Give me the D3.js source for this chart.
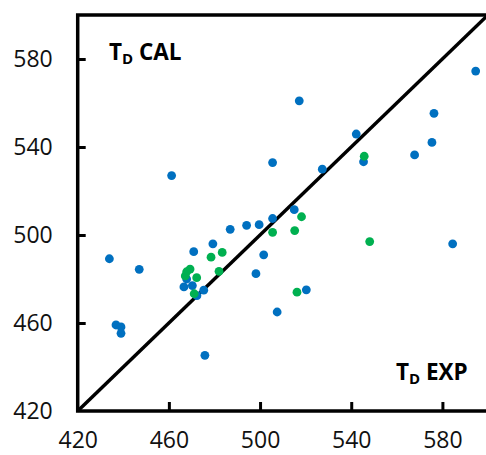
<!DOCTYPE html>
<html><head><meta charset="utf-8">
<script src="https://cdn.jsdelivr.net/npm/d3@7"></script>
<style>html,body{margin:0;padding:0;background:#fff;overflow:hidden}</style>
</head><body>
<script>
const xTicks = [420, 460, 500, 540, 580];
const yTicks = [420, 460, 500, 540, 580];
const blueX = [461.2,505.5,505.5,517.2,594.6,576.3,542.2,575.4,567.8,545.4,527.3,515,433.9,447,436.8,439,439,475.8,470.9,479.3,486.9,494.1,499.6,501.6,498.2,507.5,467.8,466.6,470.3,475.3,472.3,584.5,520.3];
const blueY = [527,532.9,507.5,561,574.5,555.3,545.9,542.1,536.4,533.3,529.9,511.5,489.2,484.4,459.1,458.2,455.3,445.3,492.4,496,502.6,504.4,504.7,491,482.4,465,480,476.4,477,474.9,472.4,496,475.1];
const greenX = [545.7,518.2,505.5,483.4,478.5,482,469.3,467.8,467.2,472.2,471.1,515.2,548.1,516.2];
const greenY = [535.8,508.3,501.2,492.1,489.9,483.5,484.5,483.3,481.4,480.6,473.3,502,497,474];

const W = 486, H = 455;
const svg = d3.select("body").append("svg").attr("width", W).attr("height", H);
const x = d3.scaleLinear().domain([420, 600]).range([77.7, 488]);
const y = d3.scaleLinear().domain([420, 600]).range([411, 15]);
const font = "'Open Sans', sans-serif";

// axes
const xAxis = svg.append("g").attr("transform", `translate(0,${y(420)})`)
  .call(d3.axisBottom(x).tickValues(xTicks).tickSizeInner(-9).tickSizeOuter(0).tickPadding(21));
const yAxis = svg.append("g").attr("transform", `translate(${x(420)},0)`)
  .call(d3.axisLeft(y).tickValues(yTicks).tickSizeInner(-8).tickSizeOuter(0).tickPadding(25));
[xAxis, yAxis].forEach(g => {
  g.select(".domain").remove();
  g.selectAll(".tick line").attr("stroke", "#000").attr("stroke-width", 3);
  g.selectAll(".tick text").attr("font-family", font).attr("font-size", 23).attr("fill", "#111");
});
xAxis.selectAll(".tick text").attr("dy", "0.71em").attr("y", 21);
yAxis.selectAll(".tick").filter(d => d === 420).select("line").remove();
xAxis.selectAll(".tick").filter(d => d === 420).select("line").remove();

// frame
svg.append("rect").attr("x", x(420)).attr("y", y(600))
  .attr("width", x(600) - x(420)).attr("height", y(420) - y(600))
  .attr("fill", "none").attr("stroke", "#000").attr("stroke-width", 3.5);

// diagonal
svg.append("line").attr("x1", x(420)).attr("y1", y(420)).attr("x2", x(600)).attr("y2", y(600))
  .attr("stroke", "#000").attr("stroke-width", 3.5);

// points
const blue = blueX.map((v, i) => [v, blueY[i]]);
const green = greenX.map((v, i) => [v, greenY[i]]);
svg.append("g").selectAll("circle").data(blue).join("circle")
  .attr("cx", d => x(d[0])).attr("cy", d => y(d[1])).attr("r", 4.4).attr("fill", "#0070C0");
svg.append("g").selectAll("circle").data(green).join("circle")
  .attr("cx", d => x(d[0])).attr("cy", d => y(d[1])).attr("r", 4.4).attr("fill", "#00B050");

// labels
function label(tx, ty, main) {
  const t = svg.append("text").attr("x", tx).attr("y", ty).attr("font-family", font)
    .attr("font-weight", "bold").attr("font-size", 22.5).attr("fill", "#000");
  t.append("tspan").text("T");
  t.append("tspan").attr("font-size", 15).attr("dy", 4).text("D");
  t.append("tspan").attr("dy", -4).text(" " + main);
}
label(109, 60, "CAL");
label(396, 380, "EXP");
</script>
</body></html>
